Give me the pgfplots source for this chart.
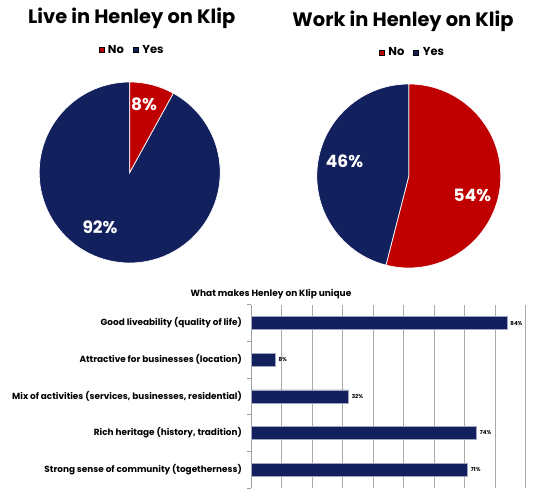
\documentclass[border=0pt]{standalone}
\usepackage{pgfplots}
\pgfplotsset{compat=1.18}
\usepackage{fontspec}
\setmainfont{Poppins}
\definecolor{navy}{HTML}{12205E}
\definecolor{pred}{HTML}{C00000}

\pgfplotsset{
  pie/.style={
    scale only axis, hide axis, clip=false,
    xmin=-1, xmax=1, ymin=-1, ymax=1,
    legend columns=2,
    legend image code/.code={\fill[##1] (0pt,-2.5pt) rectangle (5pt,2.5pt);},
    legend style={draw=none, fill=none, inner sep=0pt,
      nodes={inner sep=1pt, font=\fontsize{11.5}{13}\selectfont\bfseries},
      /tikz/every odd column/.append style={column sep=3pt},
      /tikz/every even column/.append style={column sep=8pt}},
  },
}
\tikzset{pct/.style={white, font=\fontsize{17}{19}\selectfont\bfseries}}

\begin{document}
\begin{tikzpicture}[x=1pt,y=1pt]
\useasboundingbox (0,0) rectangle (545,489);

% titles
\node[font=\fontsize{19.4}{22}\selectfont\bfseries] at (131.7,470.7) {Live in Henley on Klip};
\node[font=\fontsize{19.4}{22}\selectfont\bfseries] at (403,467.3) {Work in Henley on Klip};

% Live: No 8, Yes 92
\begin{axis}[pie, at={(129.7pt,316.5pt)}, anchor=center, width=181pt, height=181pt,
  legend style={at={(axis cs:0.02,1.355)}, anchor=center}]
  \addlegendimage{fill=pred}\addlegendentry{No}
  \addlegendimage{fill=navy}\addlegendentry{Yes}
  \filldraw[fill=navy, draw=white, line width=0.7pt] (axis cs:0,0) -- (axis cs:0,1)
    arc[start angle=90, end angle={90+3.6*92}, radius=90.5pt] -- cycle;
  \filldraw[fill=pred, draw=white, line width=0.7pt] (axis cs:0,0) -- (axis cs:0,1)
    arc[start angle=90, end angle={90-3.6*8}, radius=90.5pt] -- cycle;
  \node[pct] at (axis cs:0.158,0.755) {8\%};
  \node[pct] at (axis cs:-0.328,-0.608) {92\%};
\end{axis}

% Work: No 54, Yes 46
\begin{axis}[pie, at={(408.8pt,313pt)}, anchor=center, width=184pt, height=184pt,
  legend style={at={(axis cs:0.035,1.34)}, anchor=center}]
  \addlegendimage{fill=pred}\addlegendentry{No}
  \addlegendimage{fill=navy}\addlegendentry{Yes}
  \filldraw[fill=pred, draw=white, line width=0.7pt] (axis cs:0,0) -- (axis cs:0,1)
    arc[start angle=90, end angle={90-3.6*54}, radius=92pt] -- cycle;
  \filldraw[fill=navy, draw=white, line width=0.7pt] (axis cs:0,0) -- (axis cs:0,1)
    arc[start angle=90, end angle={90+3.6*46}, radius=92pt] -- cycle;
  \node[pct] at (axis cs:-0.699,0.160) {46\%};
  \node[pct] at (axis cs:0.691,-0.210) {54\%};
\end{axis}

% bar chart
\node[font=\fontsize{9}{10}\selectfont\bfseries] at (271,195.3) {What makes Henley on Klip unique};
\begin{axis}[
  at={(251pt,1pt)}, anchor=south west, scale only axis,
  width=274.5pt, height=183.3pt,
  xbar, bar width=13pt,
  xmin=0, xmax=90, ymin=-0.5, ymax=4.5,
  axis lines*=left,
  x axis line style={draw=none},
  y axis line style={-, draw=gray!75, line width=0.8pt},
  xtick={0,10,...,90}, xticklabels={},
  xmajorgrids, major x grid style={draw=gray!65, line width=0.8pt},
  ytick={0,...,4},
  yticklabels={{Strong sense of community (togetherness)},
    {Rich heritage (history, tradition)},
    {Mix of activities (services, businesses, residential)},
    {Attractive for businesses (location)},
    {Good liveability (quality of life)}},
  yticklabel style={font=\fontsize{8.9}{10}\selectfont\bfseries, inner sep=0pt, xshift=-9pt},
  major tick length=0pt,
  minor ytick={-0.5,0.5,...,4.5}, minor tick length=4pt, tick align=outside,
  minor tick style={draw=gray!75, line width=0.8pt},
  nodes near coords={\pgfmathprintnumber[assume math mode=true]{\pgfplotspointmeta}\%},
  nodes near coords style={font=\fontsize{5.5}{6}\selectfont\bfseries, inner sep=2pt, xshift=1pt},
]
  \addplot[fill=navy, draw=navy!40!white, line width=0.5pt]
    coordinates {(71,0) (74,1) (32,2) (8,3) (84,4)};
\end{axis}
\end{tikzpicture}
\end{document}
